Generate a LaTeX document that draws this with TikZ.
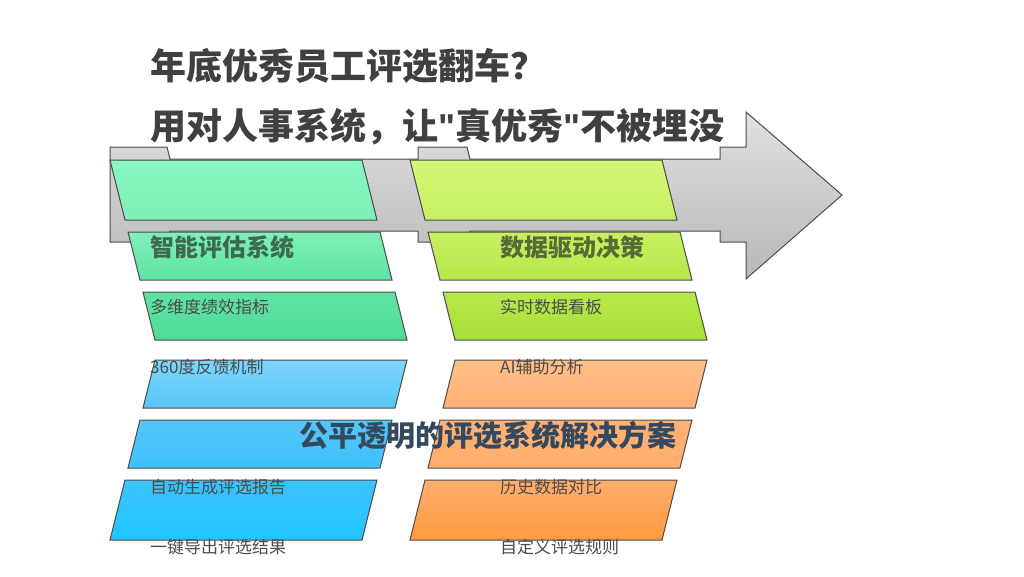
\documentclass[tikz,border=0pt]{standalone}
\usepackage{fontspec}
\setmainfont{Noto Sans CJK SC}
\newfontfamily\latinfont{Liberation Sans}
\usetikzlibrary{positioning,calc}
\definecolor{headL}{HTML}{3E6B50}
\definecolor{headR}{HTML}{566B36}
\definecolor{sumcol}{HTML}{34495E}

\tikzset{
    para/.style={draw=black!70, line width=1pt},
    item/.style={anchor=west, inner sep=0pt, font=\fontsize{17}{17}\selectfont, text=black!70},
    head/.style={anchor=west, inner sep=0pt, font=\fontsize{24}{24}\selectfont\bfseries},
    title/.style={anchor=west, inner sep=0pt, font=\fontsize{36}{36}\selectfont\bfseries, text=black!75}
}
\newcommand{\qt}{{\latinfont\bfseries"}}

\begin{document}
\begin{tikzpicture}[x=1pt,y=-1pt]
    \useasboundingbox (0,0) rectangle (1024,576);

    % Arrow
    \draw[line width=1pt, draw=black!70, top color=black!12, bottom color=black!28]
        (110,147) -- (167,147) -- (170,159) -- (418,159) -- (418,147) -- (467,147)
        -- (470,159) -- (720,159) -- (720,147) -- (746,147) -- (746,112) -- (842,195)
        -- (746,279) -- (746,242) -- (720,242) -- (720,231) -- (470,231) -- (467,242)
        -- (418,242) -- (418,231) -- (170,231) -- (167,242) -- (110,242) -- cycle;

    % Parallelograms (left column, right column)
    \foreach \dx/\ca/\cb/\cc/\cd/\ce/\cf/\cg/\ch in {0/88F7C2/7FF0B8/5EE3A5/4FDC95/7DD6FA/55C6F8/3CC2FC/1FC6FF,
                                      300/D4F777/C8F061/B7E84A/A8DF3A/FFC088/FFB074/FFAE6C/FF9A40} {
        \definecolor{pA}{HTML}{\ca}\definecolor{pB}{HTML}{\cb}
        \definecolor{pC}{HTML}{\cc}\definecolor{pD}{HTML}{\cd}
        \definecolor{pE}{HTML}{\ce}\definecolor{pF}{HTML}{\cf}
        \definecolor{pG}{HTML}{\cg}\definecolor{pH}{HTML}{\ch}
        \draw[para, top color=pA, bottom color=pB] (110+\dx,160) -- (362+\dx,160) -- (377+\dx,220) -- (125+\dx,220) -- cycle;
        \draw[para, top color=pB, bottom color=pC] (128+\dx,232) -- (380+\dx,232) -- (392+\dx,280) -- (140+\dx,280) -- cycle;
        \draw[para, top color=pC, bottom color=pD] (143+\dx,292) -- (395+\dx,292) -- (407+\dx,340) -- (155+\dx,340) -- cycle;
        \draw[para, top color=pE, bottom color=pF] (155+\dx,360) -- (407+\dx,360) -- (395+\dx,408) -- (143+\dx,408) -- cycle;
        \draw[para, top color=pF, bottom color=pG] (140+\dx,420) -- (392+\dx,420) -- (380+\dx,468) -- (128+\dx,468) -- cycle;
        \draw[para, top color=pG, bottom color=pH] (125+\dx,480) -- (377+\dx,480) -- (362+\dx,540) -- (110+\dx,540) -- cycle;
    }

    % Titles
    \node[title] (t1) at (150,66) {年底优秀员工评选翻车？};
    \node[title] (t2) at (150,127) {用对人事系统，让\qt 真优秀\qt 不被埋没};

    % Column heads
    \node[head, text=headL] (h1) at (150,247) {智能评估系统};
    \node[head, text=headR] (h2) at (500,247) {数据驱动决策};

    % Items
    \node[item] (a1) at (150,307) {多维度绩效指标};
    \node[item] (a2) at (150,367) {360度反馈机制};
    \node[item] (a3) at (150,487) {自动生成评选报告};
    \node[item] (a4) at (150,547) {一键导出评选结果};
    \node[item] (b1) at (500,307) {实时数据看板};
    \node[item] (b2) at (500,367) {AI辅助分析};
    \node[item] (b3) at (500,487) {历史数据对比};
    \node[item] (b4) at (500,547) {自定义评选规则};

    % Summary
    \node[font=\fontsize{29}{29}\selectfont\bfseries, text=sumcol, inner sep=0pt] (sum) at (488,435) {公平透明的评选系统解决方案};
\end{tikzpicture}
\end{document}
